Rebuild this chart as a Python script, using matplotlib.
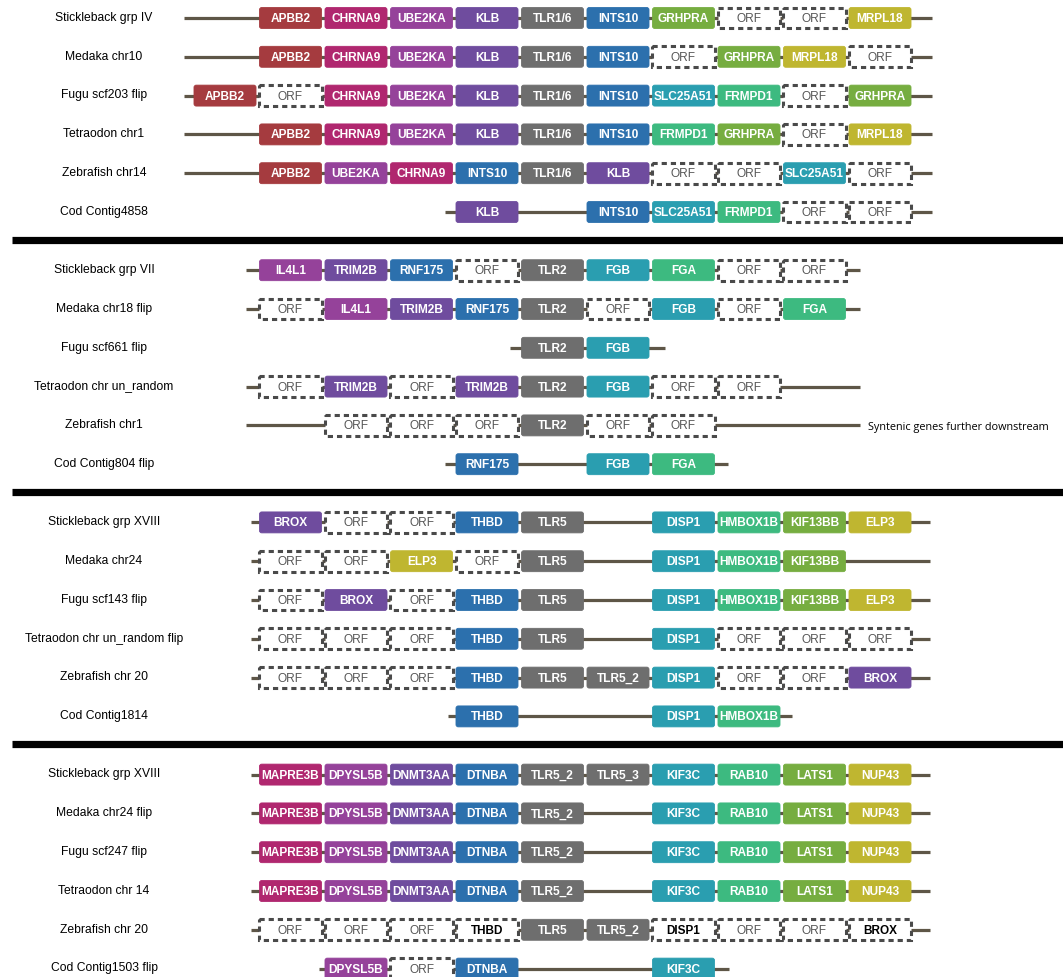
import matplotlib
matplotlib.use("Agg")
import matplotlib.pyplot as plt
from matplotlib.patches import FancyBboxPatch

plt.rcParams['font.family'] = ['Liberation Sans', 'DejaVu Sans']

# ---- data: gene order per contig (slot index = position in the synteny block) ----
# each row: first slot, then genes in consecutive slots ("" = no gene, "ORF" = unannotated ORF,
# "~NAME" = gene present only as unannotated/pseudo copy)

panel1_labels = ["Stickleback grp IV", "Medaka chr10", "Fugu scf203 flip",
                 "Tetraodon chr1", "Zebrafish chr14", "Cod Contig4858"]
panel1_start = [0, 0, -1, 0, 0, 3]
panel1_genes = [
    ["APBB2", "CHRNA9", "UBE2KA", "KLB", "TLR1/6", "INTS10", "GRHPRA", "ORF", "ORF", "MRPL18"],
    ["APBB2", "CHRNA9", "UBE2KA", "KLB", "TLR1/6", "INTS10", "ORF", "GRHPRA", "MRPL18", "ORF"],
    ["APBB2", "ORF", "CHRNA9", "UBE2KA", "KLB", "TLR1/6", "INTS10", "SLC25A51", "FRMPD1", "ORF", "GRHPRA"],
    ["APBB2", "CHRNA9", "UBE2KA", "KLB", "TLR1/6", "INTS10", "FRMPD1", "GRHPRA", "ORF", "MRPL18"],
    ["APBB2", "UBE2KA", "CHRNA9", "INTS10", "TLR1/6", "KLB", "ORF", "ORF", "SLC25A51", "ORF"],
    ["KLB", "", "INTS10", "SLC25A51", "FRMPD1", "ORF", "ORF"],
]
panel1_span = [(-1.63, 9.79), (-1.63, 9.79), (-1.63, 9.79), (-1.63, 9.79), (-1.63, 9.79), (2.36, 9.79)]

panel2_labels = ["Stickleback grp VII", "Medaka chr18 flip", "Fugu scf661 flip",
                 "Tetraodon chr un_random", "Zebrafish chr1", "Cod Contig804 flip"]
panel2_start = [0, 0, 4, 0, 1, 3]
panel2_genes = [
    ["IL4L1", "TRIM2B", "RNF175", "ORF", "TLR2", "FGB", "FGA", "ORF", "ORF"],
    ["ORF", "IL4L1", "TRIM2B", "RNF175", "TLR2", "ORF", "FGB", "ORF", "FGA"],
    ["TLR2", "FGB"],
    ["ORF", "TRIM2B", "ORF", "TRIM2B", "TLR2", "FGB", "ORF", "ORF"],
    ["ORF", "ORF", "ORF", "TLR2", "ORF", "ORF"],
    ["RNF175", "", "FGB", "FGA"],
]
panel2_span = [(-0.68, 8.69), (-0.68, 8.69), (3.35, 5.72), (-0.68, 8.69), (-0.68, 8.69), (2.36, 6.68)]

panel3_labels = ["Stickleback grp XVIII", "Medaka chr24", "Fugu scf143 flip",
                 "Tetraodon chr un_random flip", "Zebrafish chr 20", "Cod Contig1814"]
panel3_start = [0, 0, 0, 0, 0, 3]
panel3_genes = [
    ["BROX", "ORF", "ORF", "THBD", "TLR5", "", "DISP1", "HMBOX1B", "KIF13BB", "ELP3"],
    ["ORF", "ORF", "ELP3", "ORF", "TLR5", "", "DISP1", "HMBOX1B", "KIF13BB"],
    ["ORF", "BROX", "ORF", "THBD", "TLR5", "", "DISP1", "HMBOX1B", "KIF13BB", "ELP3"],
    ["ORF", "ORF", "ORF", "THBD", "TLR5", "", "DISP1", "ORF", "ORF", "ORF"],
    ["ORF", "ORF", "ORF", "THBD", "TLR5", "TLR5_2", "DISP1", "ORF", "ORF", "BROX"],
    ["THBD", "", "", "DISP1", "HMBOX1B"],
]
panel3_span = [(-0.6, 9.76)] * 5 + [(2.4, 7.66)]

panel4_labels = ["Stickleback grp XVIII", "Medaka chr24 flip", "Fugu scf247 flip",
                 "Tetraodon chr 14", "Zebrafish chr 20", "Cod Contig1503 flip"]
panel4_start = [0, 0, 0, 0, 0, 1]
panel4_genes = [
    ["MAPRE3B", "DPYSL5B", "DNMT3AA", "DTNBA", "TLR5_2", "TLR5_3", "KIF3C", "RAB10", "LATS1", "NUP43"],
    ["MAPRE3B", "DPYSL5B", "DNMT3AA", "DTNBA", "TLR5_2", "", "KIF3C", "RAB10", "LATS1", "NUP43"],
    ["MAPRE3B", "DPYSL5B", "DNMT3AA", "DTNBA", "TLR5_2", "", "KIF3C", "RAB10", "LATS1", "NUP43"],
    ["MAPRE3B", "DPYSL5B", "DNMT3AA", "DTNBA", "TLR5_2", "", "KIF3C", "RAB10", "LATS1", "NUP43"],
    ["ORF", "ORF", "ORF", "~THBD", "TLR5", "TLR5_2", "~DISP1", "ORF", "ORF", "~BROX"],
    ["DPYSL5B", "ORF", "DTNBA", "", "", "KIF3C"],
]
panel4_span = [(-0.6, 9.76)] * 5 + [(0.44, 6.69)]

GENE_COLORS = {
    "APBB2": "#a53b3f",
    "CHRNA9": "#b0276f", "MAPRE3B": "#b0276f",
    "UBE2KA": "#95429a", "IL4L1": "#95429a", "DPYSL5B": "#95429a",
    "KLB": "#6f4c9e", "TRIM2B": "#6f4c9e", "BROX": "#6f4c9e", "DNMT3AA": "#6f4c9e",
    "TLR1/6": "#6e6e6e", "TLR2": "#6e6e6e", "TLR5": "#6e6e6e", "TLR5_2": "#6e6e6e", "TLR5_3": "#6e6e6e",
    "INTS10": "#2c70ad", "RNF175": "#2c70ad", "THBD": "#2c70ad", "DTNBA": "#2c70ad",
    "SLC25A51": "#2a9eb0", "FGB": "#2a9eb0", "DISP1": "#2a9eb0", "KIF3C": "#2a9eb0",
    "FRMPD1": "#3dba80", "FGA": "#3dba80", "HMBOX1B": "#3dba80", "RAB10": "#3dba80",
    "GRHPRA": "#76ad40", "KIF13BB": "#76ad40", "LATS1": "#76ad40",
    "MRPL18": "#bfb630", "ELP3": "#bfb630", "NUP43": "#bfb630",
}

panels = [
    (panel1_labels, panel1_start, panel1_genes, panel1_span),
    (panel2_labels, panel2_start, panel2_genes, panel2_span),
    (panel3_labels, panel3_start, panel3_genes, panel3_span),
    (panel4_labels, panel4_start, panel4_genes, panel4_span),
]

# ---- layout (pixel -> slot/row units) ----
W, H = 1063, 978
SLOT_PX, SLOT0_PX = 65.5, 290.5
ROW_PX, ROW0_PX = 38.8, 19
PANEL_ROWS = 6.5
BOX_W = 0.947
BOX_H = 0.54
LABEL_X = (104 - SLOT0_PX) / SLOT_PX

fig = plt.figure(figsize=(W / 100, H / 100), dpi=100)
ax = fig.add_axes([0, 0, 1, 1])
ax.set_xlim(-SLOT0_PX / SLOT_PX, (W - SLOT0_PX) / SLOT_PX)
ax.set_ylim((H - ROW0_PX) / ROW_PX, -ROW0_PX / ROW_PX)
ax.axis("off")

aspect = SLOT_PX / ROW_PX


def draw_box(x, y, name):
    dashed = name == "ORF" or name.startswith("~")
    if dashed:
        p = FancyBboxPatch((x - BOX_W / 2, y - BOX_H / 2), BOX_W, BOX_H,
                           boxstyle="square,pad=0", facecolor="white",
                           edgecolor="#4a4a4a", linewidth=2.2,
                           linestyle=(0, (1.7, 1.3)), zorder=3)
        ax.add_patch(p)
        if name == "ORF":
            ax.text(x, y, "ORF", color="#575757", fontsize=8.6,
                    ha="center", va="center", zorder=4)
        else:
            ax.text(x, y, name[1:], color="black", fontsize=8.5, fontweight="bold",
                    ha="center", va="center", zorder=4)
    else:
        color = GENE_COLORS[name]
        p = FancyBboxPatch((x - BOX_W / 2, y - BOX_H / 2), BOX_W, BOX_H,
                           boxstyle="round,pad=0,rounding_size=0.035",
                           mutation_aspect=aspect, facecolor=color,
                           edgecolor=color, linewidth=0.6, zorder=3)
        ax.add_patch(p)
        ax.text(x, y, name, color="white", fontsize=8.6, fontweight="bold",
                ha="center", va="center", zorder=4)


for p_i, (labels, starts, genes, spans) in enumerate(panels):
    for r, label in enumerate(labels):
        y = p_i * PANEL_ROWS + r
        ax.text(LABEL_X, y - 0.03, label, fontsize=8.7, ha="center", va="center", color="black")
        x0, x1 = spans[r]
        ax.plot([x0, x1], [y, y], color="#5e5647", linewidth=2.3,
                solid_capstyle="butt", zorder=1)
        for k, g in enumerate(genes[r]):
            if g == "":
                continue
            draw_box(starts[r] + k, y, g)
    if p_i < len(panels) - 1:
        ys = p_i * PANEL_ROWS + 5.72
        ax.plot([(12 - SLOT0_PX) / SLOT_PX, (W - SLOT0_PX) / SLOT_PX], [ys, ys],
                color="black", linewidth=5.2, solid_capstyle="butt", zorder=5)

# note beside Zebrafish chr1
ax.text((868 - SLOT0_PX) / SLOT_PX, 1 * PANEL_ROWS + 4 + 0.02, "Syntenic genes further downstream",
        fontsize=7.8, family=["Open Sans", "DejaVu Sans"], ha="left", va="center", color="black")

fig.savefig("out.png", dpi=100)
